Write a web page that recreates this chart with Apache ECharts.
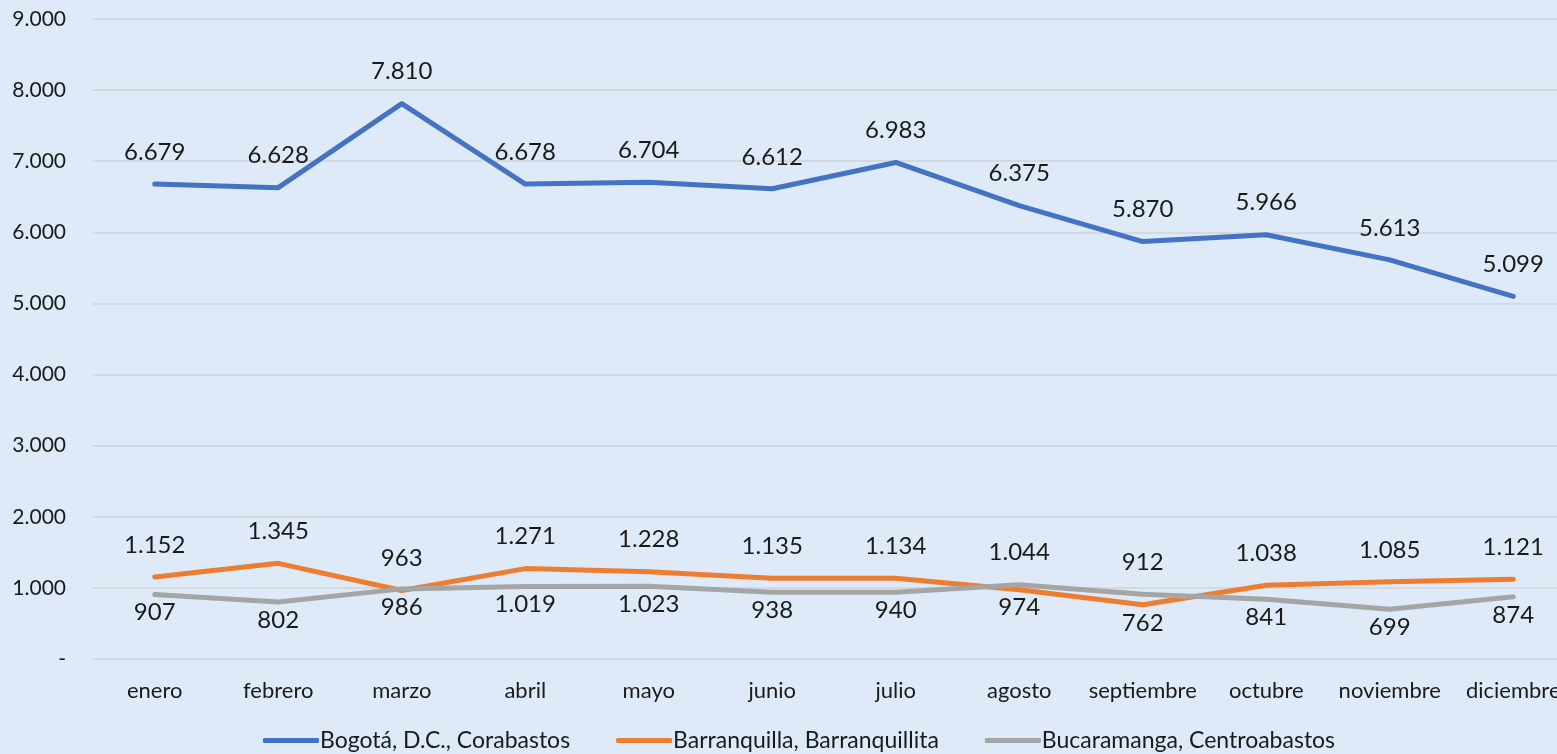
<!DOCTYPE html>
<html>
<head>
<meta charset="utf-8">
<script src="https://cdn.jsdelivr.net/npm/echarts@6/dist/echarts.min.js"></script>
<style>
html,body{margin:0;padding:0;background:#dfeaf8;overflow:hidden;width:1557px;height:754px;}
#chart{width:1575px;height:754px;}
</style>
</head>
<body>
<div id="chart"></div>
<script>
const categories = ['enero','febrero','marzo','abril','mayo','junio','julio','agosto','septiembre','octubre','noviembre','diciembre'];
const bogota = [6679,6628,7810,6678,6704,6612,6983,6375,5870,5966,5613,5099];
const barranquilla = [1152,1345,963,1271,1228,1135,1134,974,762,1038,1085,1121];
const bucaramanga = [907,802,986,1019,1023,938,940,1044,912,841,699,874];
const seriesNames = ['Bogotá, D.C., Corabastos','Barranquilla, Barranquillita','Bucaramanga, Centroabastos'];

function fmt(v){
  if (v === 0) return '-';
  return String(Math.round(v)).replace(/\B(?=(\d{3})+(?!\d))/g, '.');
}
const FONT = 'Lato';
const labelBase = {show:true, color:'#1a1a1a', fontSize:24, fontFamily:FONT, formatter:p=>fmt(p.value)};

// Pair-wise placement: the visibly higher of orange/gray gets the label above
function pairData(own, other, isOrange){
  return own.map((v,i)=>{
    let above = isOrange ? !(other[i] - v > 50) : (v - other[i] > 50);
    return {value:v, label:{position: above ? 'top' : 'bottom', distance: above ? 20 : 6}};
  });
}

const chart = echarts.init(document.getElementById('chart'));
chart.setOption({
  backgroundColor:'#dfeaf8',
  animation:false,
  grid:{left:93, top:19, right:0, height:640, containLabel:false},
  legend:{
    top:729, left:263, padding:0,
    itemWidth:56, itemHeight:5, itemGap:46,
    icon:'roundRect',
    textStyle:{fontFamily:FONT, fontSize:23, color:'#1a1a1a', padding:[0,0,0,-4]},
    data:seriesNames
  },
  xAxis:{
    type:'category', data:categories, boundaryGap:true,
    axisLine:{show:false}, axisTick:{show:false},
    axisLabel:{fontFamily:FONT, fontSize:22, color:'#1a1a1a', margin:21, interval:0}
  },
  yAxis:{
    type:'value', min:0, max:9000, interval:1000,
    axisLine:{show:false}, axisTick:{show:false},
    axisLabel:{fontFamily:FONT, fontSize:21, color:'#1a1a1a', margin:27, formatter:fmt},
    splitLine:{lineStyle:{color:'#d4d9df', width:2}}
  },
  series:[
    {name:seriesNames[0], type:'line', data:bogota, symbol:'circle', symbolSize:0, showSymbol:true, color:'#4472c4',
     lineStyle:{width:5, cap:'round', join:'round'},
     label:Object.assign({}, labelBase, {position:'top', distance:20})},
    {name:seriesNames[1], type:'line', data:pairData(barranquilla, bucaramanga, true), symbol:'circle', symbolSize:0, showSymbol:true, color:'#ed7d31',
     lineStyle:{width:5, cap:'round', join:'round'},
     label:labelBase},
    {name:seriesNames[2], type:'line', data:pairData(bucaramanga, barranquilla, false), symbol:'circle', symbolSize:0, showSymbol:true, color:'#a5a5a5',
     lineStyle:{width:5, cap:'round', join:'round'},
     label:labelBase}
  ]
});
</script>
</body>
</html>
